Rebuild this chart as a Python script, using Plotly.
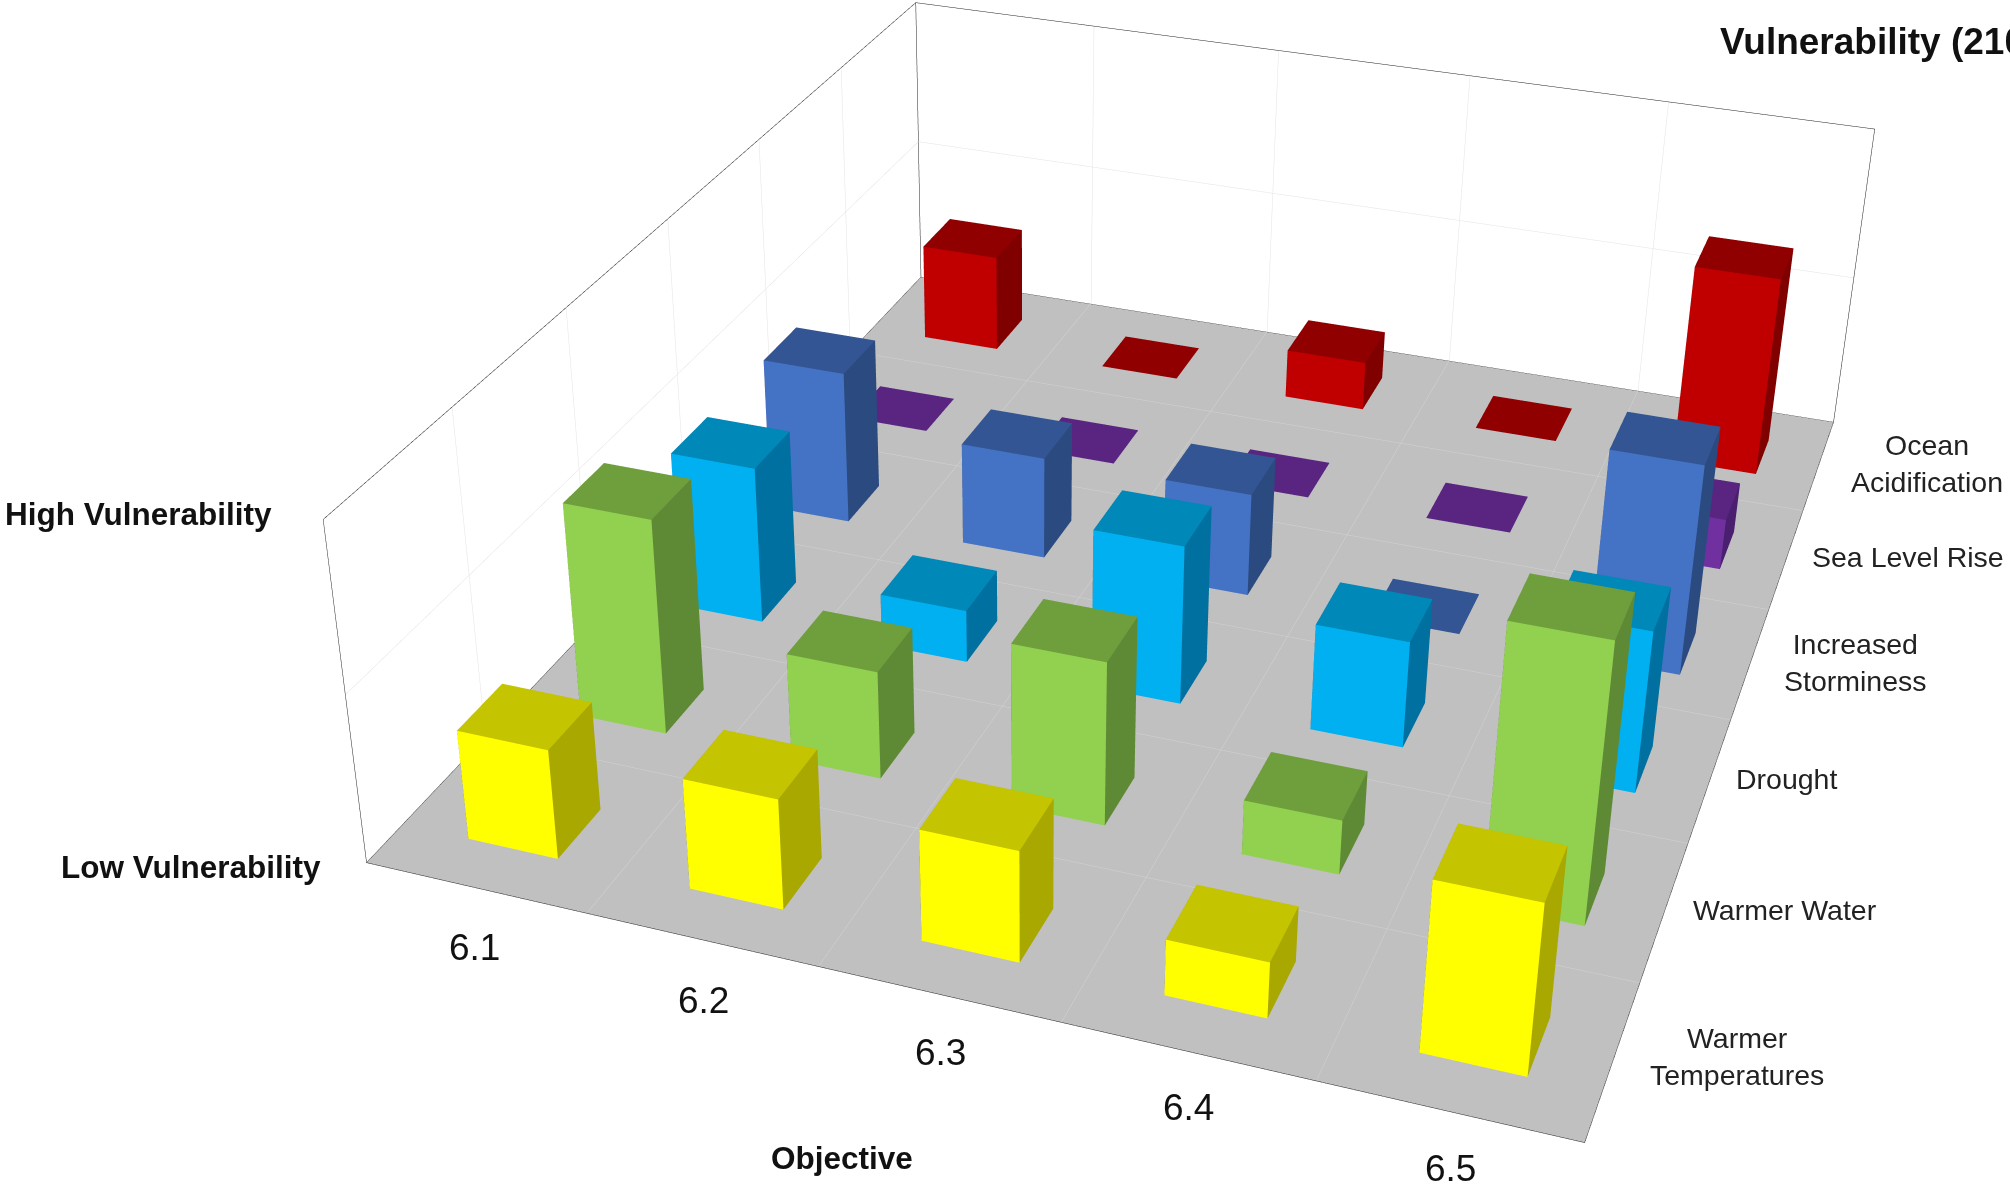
import plotly.graph_objects as go

# ---- data -------------------------------------------------------------
objectives = ["6.1", "6.2", "6.3", "6.4", "6.5"]
hazards = ["Warmer<br>Temperatures", "Warmer Water", "Drought",
           "Increased<br>Storminess", "Sea Level Rise", "Ocean<br>Acidification"]
warmer_temperatures = [2, 2, 2, 1, 3]
warmer_water = [4, 2, 3, 1, 5]
drought = [3, 1, 3, 2, 3]
increased_storminess = [3, 2, 2, 0, 4]
sea_level_rise = [0, 0, 0, 0, 1]
ocean_acidification = [2, 0, 1, 0, 4]
series = [warmer_temperatures, warmer_water, drought,
          increased_storminess, sea_level_rise, ocean_acidification]

# front, top, side shade for each hazard
front_colors = ["#FFFF00", "#92D050", "#00B0F0", "#4472C4", "#7030A0", "#C00000"]
top_colors = ["#C4C400", "#6F9E3D", "#0088B8", "#335593", "#5A2580", "#900000"]
side_colors = ["#A8A800", "#5F8A35", "#0070A0", "#2A4A80", "#4A1F70", "#800000"]

# ---- geometry / style -------------------------------------------------
Z_MAX = 6
FLOOR = -0.06
BAR_X0, BAR_W = 0.317, 0.41
BAR_Y0, BAR_D = 0.275, 0.38
WIDTH, HEIGHT = 2064, 2699   # the scene frustum is larger than the window
TOP_OFFSET = -754
FONT = "Liberation Sans"
FLAT = dict(ambient=1, diffuse=0, specular=0, roughness=1, fresnel=0)


def box(i, j, h):
    x0, x1 = i + BAR_X0, i + BAR_X0 + BAR_W
    y0, y1 = j + BAR_Y0, j + BAR_Y0 + BAR_D
    return ([x0, x1, x1, x0, x0, x1, x1, x0],
            [y0, y0, y1, y1, y0, y0, y1, y1],
            [0, 0, 0, 0, h, h, h, h])


def series_mesh(values, j):
    xs, ys, zs, a, b, c, colors = [], [], [], [], [], [], []
    for i, v in enumerate(values):
        bx, by, bz = box(i, j, v)
        n = len(xs)
        xs += bx
        ys += by
        zs += bz
        faces = [(4, 5, 6, top_colors[j]), (4, 6, 7, top_colors[j]),
                 (0, 1, 5, front_colors[j]), (0, 5, 4, front_colors[j]),
                 (1, 2, 6, side_colors[j]), (1, 6, 5, side_colors[j]),
                 (3, 0, 4, side_colors[j]), (3, 4, 7, side_colors[j]),
                 (2, 3, 7, side_colors[j]), (2, 7, 6, side_colors[j])]
        for p, q, r, col in faces:
            a.append(n + p)
            b.append(n + q)
            c.append(n + r)
            colors.append(col)
    return go.Mesh3d(x=xs, y=ys, z=zs, i=a, j=b, k=c, facecolor=colors, flatshading=True,
                     lighting=FLAT, hoverinfo="skip", showscale=False,
                     name=hazards[j].replace("<br>", " "))


def line_trace(segments, color, width):
    xs, ys, zs = [], [], []
    for s in segments:
        for p in s:
            xs.append(p[0])
            ys.append(p[1])
            zs.append(p[2])
        xs.append(None)
        ys.append(None)
        zs.append(None)
    return go.Scatter3d(x=xs, y=ys, z=zs, mode="lines", line=dict(color=color, width=width),
                        hoverinfo="skip", showlegend=False)


nx, ny = len(objectives), len(hazards)
fig = go.Figure()

# floor
fig.add_trace(go.Mesh3d(x=[0, nx, nx, 0], y=[0, 0, ny, ny], z=[FLOOR] * 4, i=[0, 0], j=[1, 2], k=[2, 3],
                        color="#C0C0C0", flatshading=True, lighting=FLAT,
                        hoverinfo="skip", showscale=False))
ZG = FLOOR + 0.02
floor_grid = [[(i, 0, ZG), (i, ny, ZG)] for i in range(1, nx)] + [[(0, j, ZG), (nx, j, ZG)] for j in range(1, ny)]
fig.add_trace(line_trace(floor_grid, "#D2D2D2", 1))
wall_grid = ([[(i, ny, ZG), (i, ny, Z_MAX)] for i in range(1, nx)] +
             [[(0, j, ZG), (0, j, Z_MAX)] for j in range(1, ny)] +
             [[(0, 0, Z_MAX / 2), (0, ny, Z_MAX / 2), (nx, ny, Z_MAX / 2)]])
fig.add_trace(line_trace(wall_grid, "#E4E4E4", 1))
frame = [[(0, 0, FLOOR), (nx, 0, FLOOR), (nx, ny, FLOOR), (0, ny, FLOOR), (0, 0, FLOOR)],
         [(0, 0, FLOOR), (0, 0, Z_MAX), (0, ny, Z_MAX), (nx, ny, Z_MAX), (nx, ny, FLOOR)],
         [(0, ny, FLOOR), (0, ny, Z_MAX)]]
fig.add_trace(line_trace(frame, "#222222", 1))

for j in range(ny):
    fig.add_trace(series_mesh(series[j], j))


def px(x, y, text, size, bold=False, anchor="center", color="#111111"):
    return dict(x=x / WIDTH, y=1 - (y - TOP_OFFSET) / HEIGHT, xref="paper", yref="paper", text=text,
                showarrow=False, xanchor=anchor, yanchor="middle", align="center",
                font=dict(family=FONT, size=size, color=color, weight="bold" if bold else "normal"))


tick_px = [(474, 947), (703, 1000), (940, 1052), (1188, 1107), (1450, 1168)]
hazard_px = [(1737, 1057), (1785, 910), (1786, 779), (1855, 662), (1908, 557), (1927, 463)]
annotations = [px(x, y, t, 37) for (x, y), t in zip(tick_px, objectives)]
annotations += [px(x, y, t, 28.5, color="#222222") for (x, y), t in zip(hazard_px, hazards)]
annotations += [px(842, 1158, "Objective", 31.5, True),
                px(138, 514, "High Vulnerability", 31.5, True),
                px(191, 867, "Low Vulnerability", 31.5, True),
                px(1718, 41, "Vulnerability (2100)", 37, True, anchor="left")]

hidden = dict(visible=False, showgrid=False, zeroline=False, showbackground=False, showspikes=False)
fig.update_layout(
    width=WIDTH, height=HEIGHT, margin=dict(l=0, r=0, t=0, b=0), paper_bgcolor="white",
    showlegend=False, annotations=annotations,
    scene=dict(
        domain=dict(x=[0, 1], y=[0, 1]),
        xaxis=dict(range=[-0.1, nx + 0.1], **hidden),
        yaxis=dict(range=[-0.1, ny + 0.1], **hidden),
        zaxis=dict(range=[-0.12, Z_MAX + 0.12], **hidden),
        aspectmode="manual", aspectratio=dict(x=1.04, y=1.2370, z=0.32827),
        camera=dict(eye=dict(x=0.7609, y=-2.4424, z=1.3675),
                    center=dict(x=-0.0484, y=-0.2638, z=-0.0016),
                    up=dict(x=0.0035, y=0, z=1)),
    ),
)

post = ("document.documentElement.style.overflow='hidden';document.body.style.overflow='hidden';"
        "document.body.style.margin='0';var g=document.getElementById('{plot_id}');"
        "g.style.position='absolute';g.style.left='0';g.style.top='%dpx';" % TOP_OFFSET)
fig.write_html("out.html", post_script=post)
